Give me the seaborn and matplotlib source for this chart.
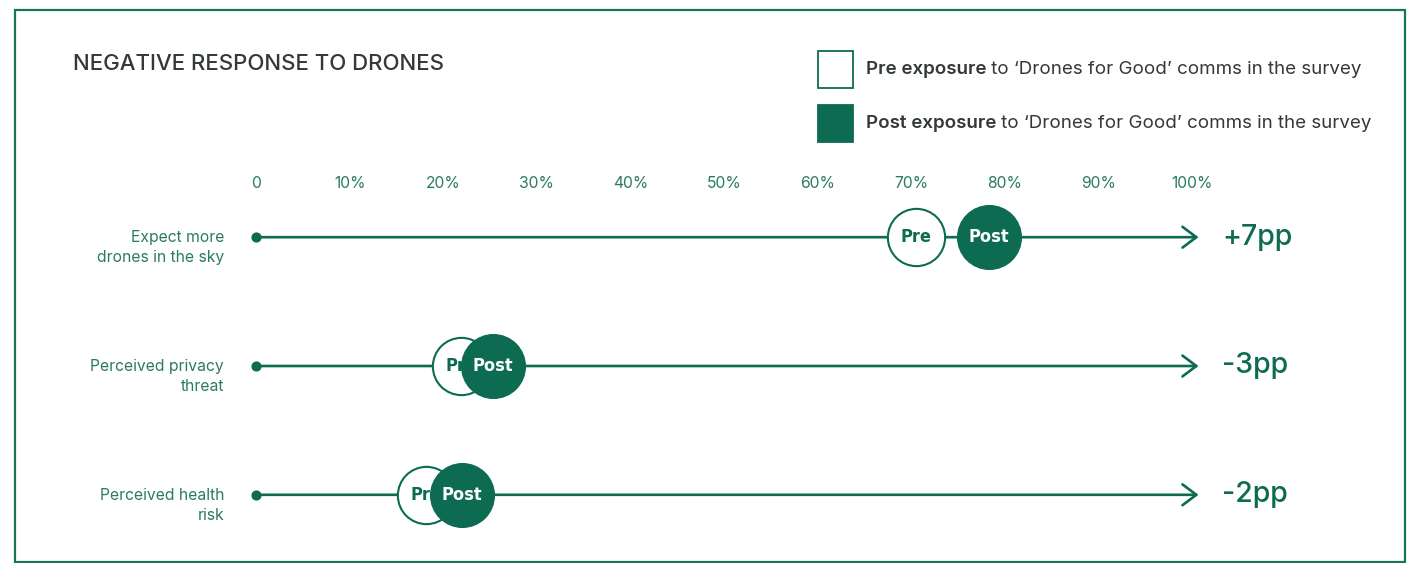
import matplotlib
matplotlib.use("Agg")
import matplotlib.pyplot as plt
from matplotlib import font_manager as fm
from matplotlib.patches import Rectangle
import seaborn as sns
import pandas as pd

# Survey results (% negative response)
categories = ["Expect more\ndrones in the sky", "Perceived privacy\nthreat", "Perceived health\nrisk"]
pre_values = [70.5, 21.9, 18.2]
post_values = [78.3, 25.3, 22.0]
change_labels = ["+7pp", "-3pp", "-2pp"]
tick_values = [0, 10, 20, 30, 40, 50, 60, 70, 80, 90, 100]
tick_labels = ["0", "10%", "20%", "30%", "40%", "50%", "60%", "70%", "80%", "90%", "100%"]

DARK = "#0c6b51"
MID = "#2b7a62"
TITLE = "#333936"
FONT = "Inter"

sns.set_theme(style="white")
plt.rcParams["font.family"] = [FONT, "DejaVu Sans"]


def narrow_bold_font():
    """Pick the narrowest bold face available for the marker captions."""
    cands = []
    for f in fm.fontManager.ttflist:
        name = f.fname.lower()
        if ("condensed" in name or "narrow" in name) and ("bold" in name or f.weight in (700, "bold")):
            if "oblique" in name or "italic" in name:
                continue
            cands.append(f.fname)
    if cands:
        return fm.FontProperties(fname=sorted(cands)[0], size=13)
    return fm.FontProperties(family=["Roboto", "DejaVu Sans"], weight="bold", size=11.5)


cap_font = narrow_bold_font()

W, H = 1410, 563
fig = plt.figure(figsize=(W / 100, H / 100), dpi=100)
fig.patch.set_facecolor("white")


def fx(px):
    return px / W


def fy(py):
    return 1 - py / H


# Axes: x=0 at px 256, x=100 at px 1192; rows at px 237, 366, 495
ax = fig.add_axes([fx(256), fy(527), (1192 - 256) / W, (527 - 205) / H])
ax.set_xlim(0, 100)
ax.set_ylim(2.25, -0.25)
for s in ax.spines.values():
    s.set_visible(False)
ax.set_facecolor("none")

rows = list(range(len(categories)))
df = pd.DataFrame({"row": rows, "category": categories, "pre": pre_values,
                   "post": post_values, "change": change_labels})

# Track lines with start dot and open arrow head
for r in rows:
    ax.annotate("", xy=(100.7, r), xytext=(0, r),
                arrowprops=dict(arrowstyle="->,head_length=1.0,head_width=0.75",
                                mutation_scale=10, color=DARK, lw=1.9,
                                shrinkA=0, shrinkB=0),
                zorder=1, annotation_clip=False)
ax.scatter([0] * len(rows), rows, s=40, color=DARK, zorder=2, clip_on=False)

# Pre markers (hollow), then Post markers (filled) on top
sns.scatterplot(data=df, x="pre", y="row", ax=ax, s=1700, color="white",
                edgecolor=DARK, linewidth=1.5, zorder=3, clip_on=False, legend=False)
for p, r in zip(pre_values, rows):
    ax.text(p, r, "Pre", ha="center", va="center", color=DARK,
            fontproperties=cap_font, zorder=4)
sns.scatterplot(data=df, x="post", y="row", ax=ax, s=2100, color=DARK,
                edgecolor=DARK, linewidth=1.0, zorder=5, clip_on=False, legend=False)
for p, r in zip(post_values, rows):
    ax.text(p, r, "Post", ha="center", va="center", color="white",
            fontproperties=cap_font, zorder=6)

# Category labels at left, change labels at right
for r, c in zip(rows, categories):
    ax.text(-3.4, r - 0.055, c, ha="right", va="top", color=MID, fontsize=11.3,
            linespacing=1.4)
for r, ch in zip(rows, change_labels):
    ax.text(103.2, r, ch, ha="left", va="center", color=DARK, fontsize=20.5,
            fontweight="medium")

# Percentage scale on top
ax.xaxis.set_ticks_position("top")
ax.set_xticks(tick_values, tick_labels)
ax.tick_params(axis="x", length=0, pad=10, labelsize=11.3, labelcolor=MID)
ax.set_yticks([])
ax.set_xlabel("")
ax.set_ylabel("")

# Title
fig.text(fx(73), fy(64), "NEGATIVE RESPONSE TO DRONES", ha="left", va="center",
         color=TITLE, fontsize=16, fontweight="medium")

# Legend
fig.add_artist(Rectangle((fx(818), fy(88)), 35 / W, 37 / H, transform=fig.transFigure,
                         facecolor="white", edgecolor=DARK, linewidth=1.3))
fig.add_artist(Rectangle((fx(818), fy(142)), 35 / W, 37 / H, transform=fig.transFigure,
                         facecolor=DARK, edgecolor=DARK, linewidth=1.3))
for y, bold in [(70, "Pre exposure"), (124, "Post exposure")]:
    t = fig.text(fx(866), fy(y), bold, ha="left", va="center",
                 color=TITLE, fontsize=13.5, fontweight="semibold")
    ax.annotate(" to \u2018Drones for Good\u2019 comms in the survey", xy=(1, 0.5),
                xycoords=t, ha="left", va="center", color=TITLE, fontsize=13.5,
                annotation_clip=False)

# Outer frame
fig.add_artist(Rectangle((fx(15), fy(562)), (1405 - 15) / W, (562 - 10) / H,
                         transform=fig.transFigure, facecolor="none",
                         edgecolor="#17755a", linewidth=1.6))

fig.savefig("out.png", dpi=100, facecolor="white")
